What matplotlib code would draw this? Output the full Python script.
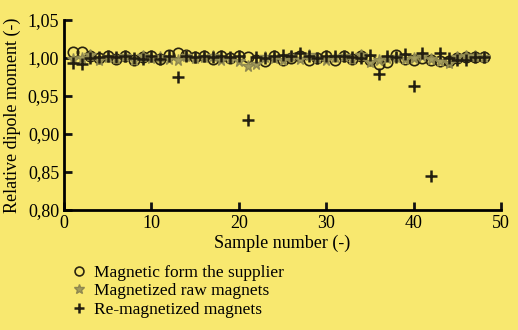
import numpy as np
import matplotlib
matplotlib.use("Agg")
import matplotlib.pyplot as plt
from matplotlib.ticker import FuncFormatter

plt.rcParams["font.family"] = ["Liberation Serif", "DejaVu Serif"]

sample = np.arange(1, 49)

# dipole moment relative to nominal, per magnet
supplier = [1.008, 1.008, 1.002, 1.000, 1.003, 0.999, 1.002, 0.997, 1.001, 1.003,
            0.999, 1.004, 1.007, 1.004, 1.001, 1.002, 0.999, 1.002, 1.000, 1.003,
            1.001, 0.998, 0.996, 1.002, 0.997, 1.000, 1.002, 0.998, 1.000, 1.002,
            0.997, 1.002, 0.999, 1.003, 0.998, 0.992, 0.995, 1.004, 0.999, 0.997,
            1.000, 0.998, 0.996, 0.996, 1.000, 1.001, 1.001, 1.001]
raw = [0.999, 1.000, 1.004, 0.998, 1.001, 1.000, 1.003, 0.998, 1.002, 1.000,
       1.001, 0.999, 0.997, 1.003, 1.000, 1.001, 1.002, 0.998, 1.000, 0.996,
       0.990, 0.992, 1.001, 1.000, 0.998, 1.002, 0.999, 1.004, 1.000, 0.998,
       1.001, 1.003, 0.999, 1.004, 0.995, 0.997, 1.000, 1.001, 0.999, 1.000,
       1.002, 0.999, 0.996, 0.993, 1.001, 1.003, 1.002, 1.001]
remag = [0.993, 0.992, 1.000, 1.001, 1.003, 1.001, 1.002, 1.000, 0.999, 1.003,
         0.999, 1.002, 0.975, 1.003, 1.001, 1.002, 1.001, 1.003, 1.001, 1.002,
         0.919, 1.001, 1.000, 1.003, 1.004, 1.003, 1.007, 1.002, 1.000, 1.002,
         1.003, 1.003, 1.001, 1.000, 1.004, 0.979, 1.003, 1.001, 1.005, 0.963,
         1.006, 0.845, 1.006, 1.000, 0.998, 0.997, 1.001, 1.001]

bg = "#f8e86f"
fig = plt.figure(figsize=(5.18, 3.30), dpi=100, facecolor=bg)
ax = fig.add_axes([0.1236, 0.3636, 0.8436, 0.5758], facecolor=bg)

ax.plot(sample, supplier, "o", ms=7.5, mfc="none", mec="#2a2410", mew=1.2,
        label="Magnetic form the supplier")
ax.plot(sample, raw, "*", ms=8.5, color="#a39c5c", mec="#8f8850",
        label="Magnetized raw magnets")
ax.plot(sample, remag, "+", ms=8, mew=1.8, color="#221e10",
        label="Re-magnetized magnets")

ax.set_xlim(0, 50)
ax.set_ylim(0.80, 1.05)
ax.set_xticks([0, 10, 20, 30, 40, 50])
ax.set_yticks([0.80, 0.85, 0.90, 0.95, 1.00, 1.05])
ax.yaxis.set_major_formatter(FuncFormatter(lambda v, p: f"{v:.2f}".replace(".", ",")))
for s in ["top", "right"]:
    ax.spines[s].set_visible(False)
for s in ["left", "bottom"]:
    ax.spines[s].set_linewidth(2)
ax.tick_params(direction="in", width=2, length=6, labelsize=13, color="#111111")
ax.set_xlabel("Sample number (-)", fontsize=13, labelpad=2)
ax.set_ylabel("Relative dipole moment (-)", fontsize=13, labelpad=5)

leg = fig.legend(loc="upper left", bbox_to_anchor=(0.135, 0.197), frameon=False,
                 fontsize=12.5, handletextpad=0.4, labelspacing=0.12, handlelength=1.0,
                 borderpad=0, borderaxespad=0, markerscale=0.85)

fig.savefig("out.png", dpi=100, facecolor=bg)
